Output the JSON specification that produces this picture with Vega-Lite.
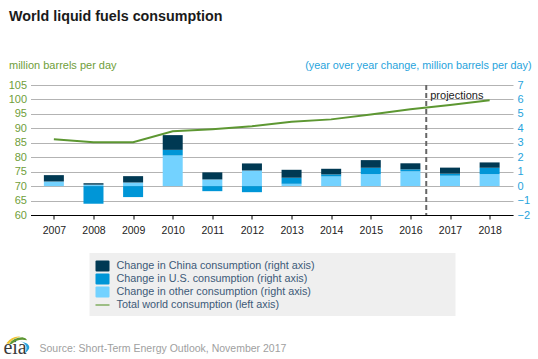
{
"$schema":"https://vega.github.io/schema/vega-lite/v6.json",
"width":482.5,"height":130,
"autosize":{"type":"none"},
"padding":{"left":30.5,"top":85,"right":25,"bottom":144},
"background":"white",
"title":{"text":"World liquid fuels consumption","anchor":"start","frame":"group","orient":"top","dx":-21.5,"offset":35,"fontSize":14.3,"fontWeight":"bold","font":"Liberation Sans","color":"#1a1a1a"},
"config":{"font":"Liberation Sans","view":{"stroke":null}},
"datasets":{
"bars":[
{"year":2007,"series":"Change in other consumption (right axis)","v":0.32,"o":1},
{"year":2007,"series":"Change in China consumption (right axis)","v":0.44,"o":3},
{"year":2008,"series":"Change in other consumption (right axis)","v":0.1,"o":1},
{"year":2008,"series":"Change in U.S. consumption (right axis)","v":-1.22,"o":2},
{"year":2008,"series":"Change in China consumption (right axis)","v":0.1,"o":3},
{"year":2009,"series":"Change in other consumption (right axis)","v":0.25,"o":1},
{"year":2009,"series":"Change in U.S. consumption (right axis)","v":-0.76,"o":2},
{"year":2009,"series":"Change in China consumption (right axis)","v":0.44,"o":3},
{"year":2010,"series":"Change in other consumption (right axis)","v":2.12,"o":1},
{"year":2010,"series":"Change in U.S. consumption (right axis)","v":0.39,"o":2},
{"year":2010,"series":"Change in China consumption (right axis)","v":1.02,"o":3},
{"year":2011,"series":"Change in other consumption (right axis)","v":0.46,"o":1},
{"year":2011,"series":"Change in U.S. consumption (right axis)","v":-0.35,"o":2},
{"year":2011,"series":"Change in China consumption (right axis)","v":0.49,"o":3},
{"year":2012,"series":"Change in other consumption (right axis)","v":1.08,"o":1},
{"year":2012,"series":"Change in U.S. consumption (right axis)","v":-0.42,"o":2},
{"year":2012,"series":"Change in China consumption (right axis)","v":0.49,"o":3},
{"year":2013,"series":"Change in other consumption (right axis)","v":0.16,"o":1},
{"year":2013,"series":"Change in U.S. consumption (right axis)","v":0.42,"o":2},
{"year":2013,"series":"Change in China consumption (right axis)","v":0.55,"o":3},
{"year":2014,"series":"Change in other consumption (right axis)","v":0.67,"o":1},
{"year":2014,"series":"Change in U.S. consumption (right axis)","v":0.14,"o":2},
{"year":2014,"series":"Change in China consumption (right axis)","v":0.39,"o":3},
{"year":2015,"series":"Change in other consumption (right axis)","v":0.83,"o":1},
{"year":2015,"series":"Change in U.S. consumption (right axis)","v":0.44,"o":2},
{"year":2015,"series":"Change in China consumption (right axis)","v":0.53,"o":3},
{"year":2016,"series":"Change in other consumption (right axis)","v":1.02,"o":1},
{"year":2016,"series":"Change in U.S. consumption (right axis)","v":0.14,"o":2},
{"year":2016,"series":"Change in China consumption (right axis)","v":0.42,"o":3},
{"year":2017,"series":"Change in other consumption (right axis)","v":0.72,"o":1},
{"year":2017,"series":"Change in U.S. consumption (right axis)","v":0.14,"o":2},
{"year":2017,"series":"Change in China consumption (right axis)","v":0.42,"o":3},
{"year":2018,"series":"Change in other consumption (right axis)","v":0.83,"o":1},
{"year":2018,"series":"Change in U.S. consumption (right axis)","v":0.44,"o":2},
{"year":2018,"series":"Change in China consumption (right axis)","v":0.37,"o":3}
],
"line":[
{"year":2007,"series":"Total world consumption (left axis)","total":86.2},
{"year":2008,"series":"Total world consumption (left axis)","total":85.2},
{"year":2009,"series":"Total world consumption (left axis)","total":85.2},
{"year":2010,"series":"Total world consumption (left axis)","total":89.0},
{"year":2011,"series":"Total world consumption (left axis)","total":89.7},
{"year":2012,"series":"Total world consumption (left axis)","total":90.7},
{"year":2013,"series":"Total world consumption (left axis)","total":92.3},
{"year":2014,"series":"Total world consumption (left axis)","total":93.1},
{"year":2015,"series":"Total world consumption (left axis)","total":94.8},
{"year":2016,"series":"Total world consumption (left axis)","total":96.6},
{"year":2017,"series":"Total world consumption (left axis)","total":98.1},
{"year":2018,"series":"Total world consumption (left axis)","total":99.7}
],
"logo":[{"year":2006.04,"level":13.3}],
"mark":[{"year":2006.02,"level":11.9,"name":"eia"}]
},
"layer":[
{
"data":{"name":"line"},
"mark":{"type":"line","opacity":0},
"encoding":{
"x":{"field":"year","type":"quantitative","scale":{"domain":[2006.41,2018.59],"nice":false,"zero":false,"padding":0},
"axis":{"values":[2007,2008,2009,2010,2011,2012,2013,2014,2015,2016,2017,2018],"format":"d","grid":false,"domainColor":"#000000","tickColor":"#000000","tickSize":4,"labelColor":"#222222","labelFontSize":10.5,"labelPadding":6,"title":"Source: Short-Term Energy Outlook, November 2017","titleFontSize":10.5,"titleFontWeight":"normal","titleColor":"#a0a0a0","titleX":8.5,"titleY":133,"titleAnchor":"start","titleAlign":"left","titleBaseline":"middle"}},
"y":{"field":"total","type":"quantitative","scale":{"domain":[60,105],"nice":false,"zero":false},
"axis":{"values":[60,65,70,75,80,85,90,95,100,105],"grid":true,"gridColor":"#b3b3b3","gridWidth":1,"domain":false,"ticks":false,"labelColor":"#6f9e3a","labelFontSize":11,"labelPadding":4,"title":"million barrels per day","titleColor":"#6f9e3a","titleFontSize":11,"titleFontWeight":"normal","titleAngle":0,"titleX":-22,"titleY":-20,"titleAlign":"left","titleBaseline":"middle"}}
}
},
{
"data":{"name":"bars"},
"mark":{"type":"bar","size":20,"orient":"vertical"},
"encoding":{
"x":{"field":"year","type":"quantitative"},
"y":{"field":"v","type":"quantitative","stack":"zero","scale":{"domain":[-2,7],"nice":false,"zero":false},
"axis":{"orient":"right","values":[-2,-1,0,1,2,3,4,5,6,7],"grid":false,"domain":false,"ticks":false,"labelColor":"#27a3dc","labelFontSize":11,"labelPadding":4,"title":"(year over year change, million barrels per day)","titleColor":"#27a3dc","titleFontSize":10.8,"titleFontWeight":"normal","titleAngle":0,"titleX":18,"titleY":-20,"titleAlign":"right","titleBaseline":"middle"}},
"order":{"field":"o","type":"ordinal"},
"color":{"field":"series","type":"nominal","scale":{"domain":["Change in China consumption (right axis)","Change in U.S. consumption (right axis)","Change in other consumption (right axis)","Total world consumption (left axis)"],"range":["#003953","#0096d7","#73d2ff","#5d9732"]},
"legend":{"orient":"none","legendX":59,"legendY":168,"title":" ","titleOrient":"right","titlePadding":135,"fillColor":"#efefef","padding":6,"labelColor":"#3d5a78","labelFontSize":10.8,"symbolSize":100,"rowPadding":-0.6,"symbolType":"square","symbolStrokeWidth":0,"labelLimit":330,"labelOffset":7,
"encode":{
"symbols":{"update":{"shape":{"signal":"indexof(datum.label,'Total')==0?'M-1,-0.08 H1 V0.08 H-1 Z':'M-0.85,-0.78 H0.85 Q1,-0.78 1,-0.63 V0.63 Q1,0.78 0.85,0.78 H-0.85 Q-1,0.78 -1,0.63 V-0.63 Q-1,-0.78 -0.85,-0.78 Z'"},"size":{"value":196},"strokeWidth":{"value":0}}}}}}
}
},
{
"data":{"name":"line"},
"mark":{"type":"line","strokeWidth":2,"color":"#5d9732"},
"encoding":{
"x":{"field":"year","type":"quantitative"},
"y":{"field":"total","type":"quantitative","scale":{"domain":[60,105],"nice":false,"zero":false},"axis":null},
"color":{"field":"series","type":"nominal"}
}
},
{
"data":{"values":[{"year":2016.4}]},
"mark":{"type":"rule","strokeDash":[5,3],"strokeWidth":2,"color":"#666666"},
"encoding":{"x":{"field":"year","type":"quantitative"}}
},
{
"data":{"values":[{"year":2016.4,"level":101.3,"note":"projections"}]},
"mark":{"type":"text","align":"left","baseline":"middle","dx":4,"fontSize":11,"color":"#222222"},
"encoding":{"x":{"field":"year","type":"quantitative"},"y":{"field":"level","type":"quantitative","scale":{"domain":[60,105],"nice":false,"zero":false},"axis":null},"text":{"field":"note"}}
},
{
"data":{"name":"mark"},
"mark":{"type":"text","align":"center","baseline":"alphabetic","font":"Liberation Serif","fontSize":20,"color":"#3a3a3a","clip":false},
"encoding":{"x":{"field":"year","type":"quantitative"},"y":{"field":"level","type":"quantitative","scale":{"domain":[60,105],"nice":false,"zero":false},"axis":null},"text":{"field":"name"}}
},
{
"data":{"name":"logo"},
"mark":{"type":"point","filled":true,"opacity":1,"strokeWidth":0,"size":576,"color":"#f2c430","shape":"M-0.8,-0.55 Q-0.3,-1.2 0.4,-1.1 Q-0.25,-1 -0.6,-0.5 Z"},
"encoding":{"x":{"field":"year","type":"quantitative"},"y":{"field":"level","type":"quantitative","scale":{"domain":[60,105],"nice":false,"zero":false},"axis":null}}
},
{
"data":{"name":"logo"},
"mark":{"type":"point","filled":true,"opacity":1,"strokeWidth":0,"size":576,"color":"#5d9732","shape":"M-0.55,-0.5 Q-0.2,-1.05 0.55,-1.05 Q0.85,-1 0.95,-0.8 Q0.2,-1 -0.35,-0.5 Z"},
"encoding":{"x":{"field":"year","type":"quantitative"},"y":{"field":"level","type":"quantitative","scale":{"domain":[60,105],"nice":false,"zero":false},"axis":null}}
},
{
"data":{"name":"logo"},
"mark":{"type":"point","filled":true,"opacity":1,"strokeWidth":0,"size":576,"color":"#27a3dc","shape":"M0.2,-0.75 Q1.25,-0.6 1.1,-0.1 Q1,0.1 0.75,0.3 Q0.95,-0.1 0.85,-0.35 Q0.7,-0.7 0.2,-0.75 Z"},
"encoding":{"x":{"field":"year","type":"quantitative"},"y":{"field":"level","type":"quantitative","scale":{"domain":[60,105],"nice":false,"zero":false},"axis":null}}
}
],
"resolve":{"scale":{"y":"independent","color":"shared","x":"shared"}}
}
